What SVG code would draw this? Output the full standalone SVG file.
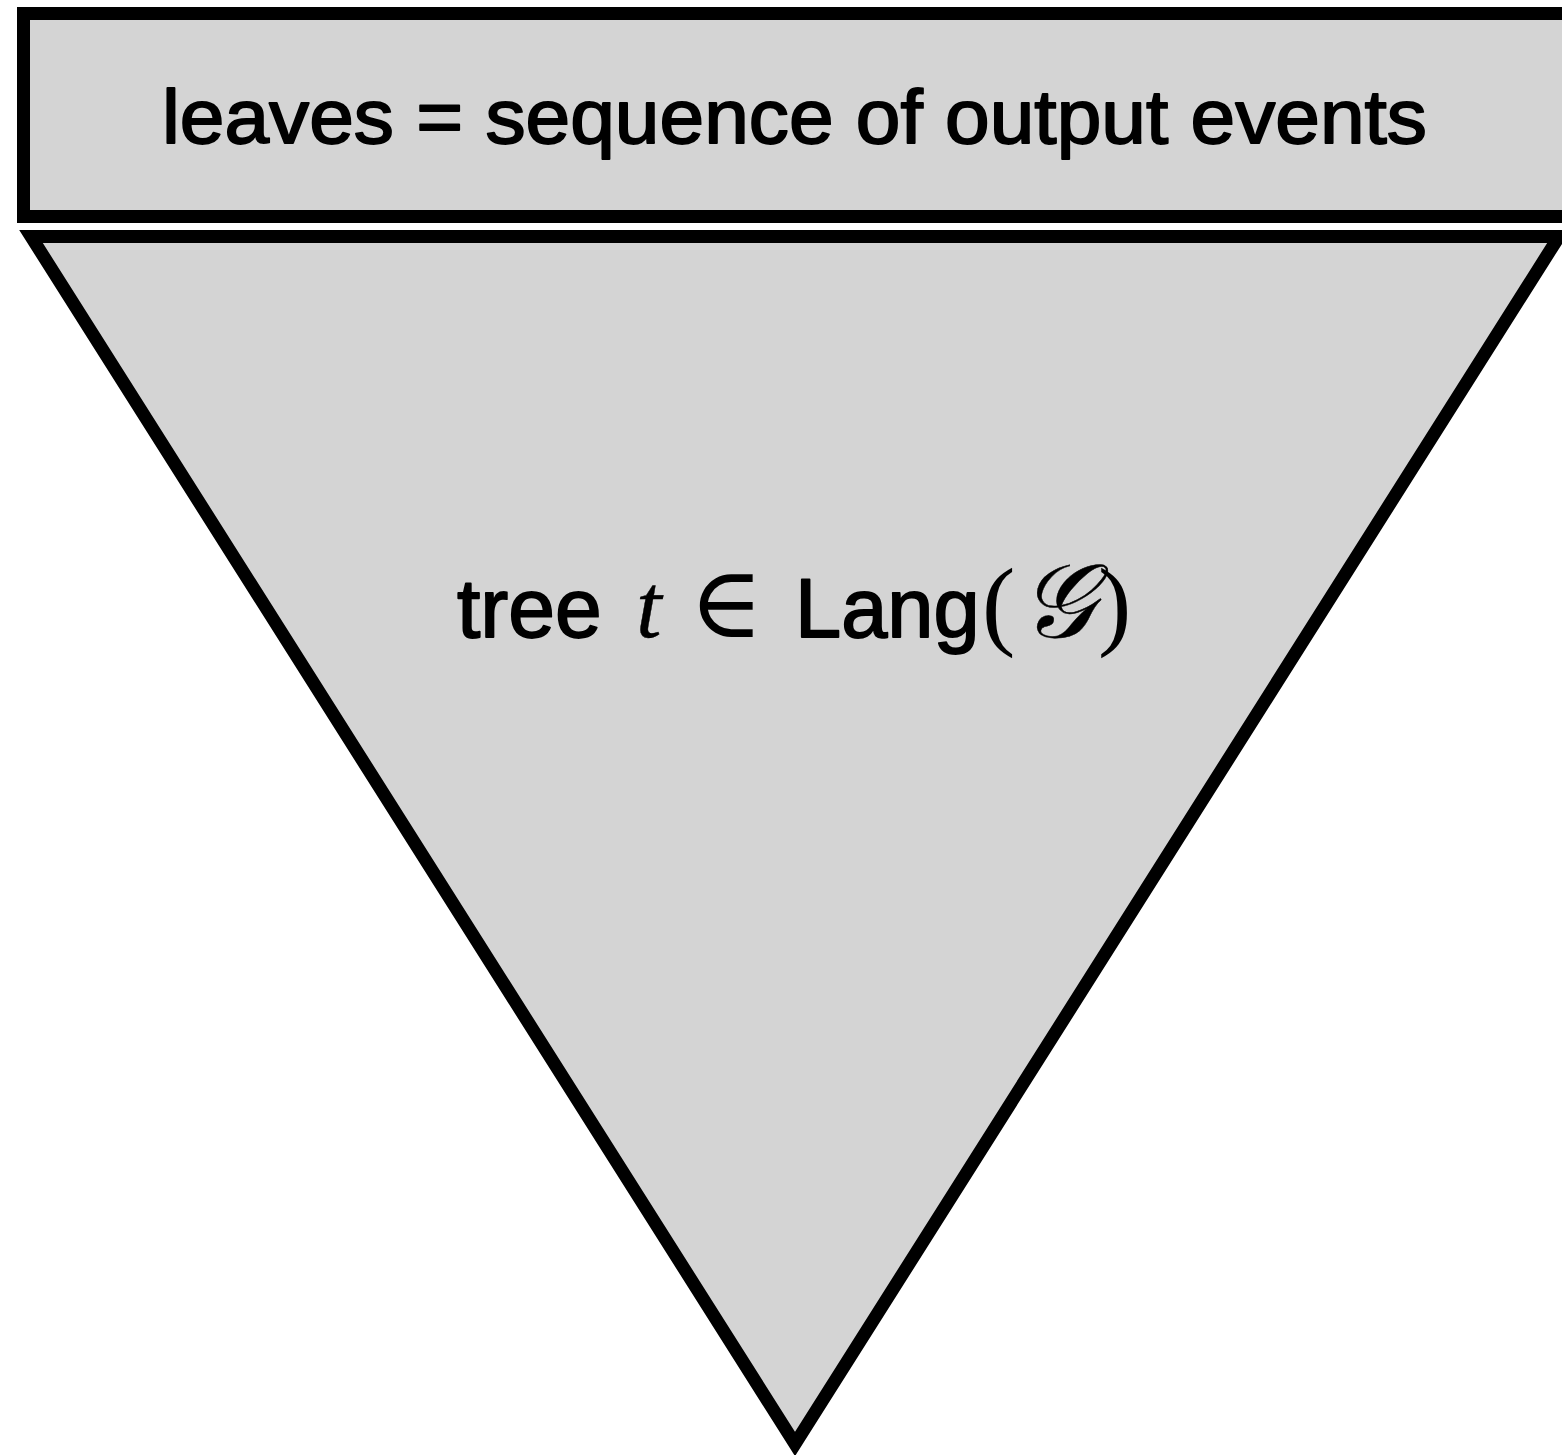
<svg xmlns="http://www.w3.org/2000/svg" width="1562" height="1455" viewBox="0 0 1562 1455">
  <style>
    .shape { fill: #d4d4d4; stroke: #000; stroke-width: 13; stroke-linejoin: miter; stroke-miterlimit: 10; }
    .label { font-family: "Liberation Sans", Arial, Helvetica, sans-serif; fill: #000; stroke: #000; stroke-width: 1.8; stroke-linejoin: round; }
    .math { font-family: "Liberation Serif", "DejaVu Serif", serif; font-style: italic; stroke-width: 0.4; }
    .rm { font-family: "Liberation Serif", "DejaVu Serif", serif; font-style: normal; stroke-width: 0; }
    .sym { font-family: "DejaVu Serif", "Liberation Serif", serif; font-style: normal; stroke-width: 0; }
  </style>
  <rect width="1562" height="1455" fill="#fff"/>
  <!-- header bar: what the leaves spell out -->
  <g id="leaves">
    <rect class="shape" x="23.5" y="13.5" width="1545" height="203"/>
    <text class="label" x="162" y="143" font-size="76" textLength="1265" lengthAdjust="spacingAndGlyphs">leaves = sequence of output events</text>
  </g>
  <!-- inverted triangle: the derivation tree -->
  <g id="tree">
    <polygon class="shape" points="31,236.5 1559,236.5 795,1444"/>
    <text class="label" y="637" font-size="84">
      <tspan x="457">tree</tspan>
      <tspan class="math" x="636" font-size="92">t</tspan>
      <tspan class="sym" x="689" font-size="100">∈</tspan>
      <tspan x="795" font-size="83">Lang</tspan>
      <tspan class="rm" x="982" font-size="100">(</tspan>
      <tspan class="math" x="1020" font-size="104">𝒢</tspan>
      <tspan class="rm" x="1098" font-size="100">)</tspan>
    </text>
  </g>
  <g id="connectors"/>
</svg>
